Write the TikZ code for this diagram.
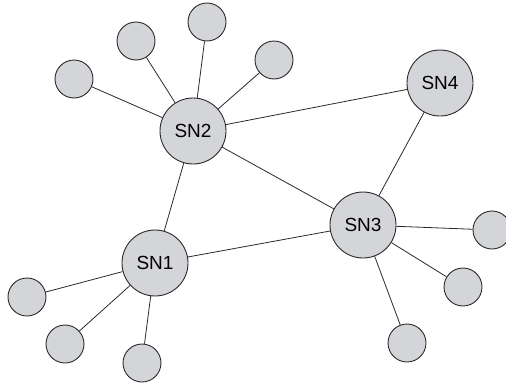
\documentclass[tikz,border=0pt]{standalone}
\usepackage{fontspec}
\setmainfont{Liberation Sans}
\usetikzlibrary{positioning}
\definecolor{nodegray}{HTML}{D4D5D8}
\definecolor{edgegray}{HTML}{2A2A2A}

\begin{document}
\begin{tikzpicture}
  [
    x=1pt,y=-1pt,
    super/.style={  draw=edgegray,  circle,  fill=nodegray,  line width=0.9pt,  minimum size=66pt,  inner sep=0pt,  font=\fontsize{19}{19}\selectfont},
    leaf/.style={  draw=edgegray,  circle,  fill=nodegray,  line width=0.9pt,  minimum size=38pt,  inner sep=0pt},
    link/.style={  draw=edgegray,  line width=0.8pt}
  ]
  \useasboundingbox (0,0) rectangle (506,383);

  % super nodes
  \node[super] (sn1) at (155,263) {SN1};
  \node[super] (sn2) at (193,131) {SN2};
  \node[super] (sn3) at (363,225) {SN3};
  \node[super] (sn4) at (440,83) {SN4};

  % leaves of SN2
  \node[leaf] (l2a) at (74,79) {};
  \node[leaf] (l2b) at (136,41) {};
  \node[leaf] (l2c) at (207,22) {};
  \node[leaf] (l2d) at (274,60) {};

  % leaves of SN3
  \node[leaf] (l3a) at (492,230) {};
  \node[leaf] (l3b) at (463,287) {};
  \node[leaf] (l3c) at (407,343) {};

  % leaves of SN1
  \node[leaf] (l1a) at (27,297) {};
  \node[leaf] (l1b) at (65,344) {};
  \node[leaf] (l1c) at (142,363) {};

  % backbone
  \draw[link] (sn1) -- (sn2);
  \draw[link] (sn1) -- (sn3);
  \draw[link] (sn2) -- (sn3);
  \draw[link] (sn2) -- (sn4);
  \draw[link] (sn3) -- (sn4);

  % leaf links
  \draw[link] (sn2) -- (l2a);
  \draw[link] (sn2) -- (l2b);
  \draw[link] (sn2) -- (l2c);
  \draw[link] (sn2) -- (l2d);
  \draw[link] (sn3) -- (l3a);
  \draw[link] (sn3) -- (l3b);
  \draw[link] (sn3) -- (l3c);
  \draw[link] (sn1) -- (l1a);
  \draw[link] (sn1) -- (l1b);
  \draw[link] (sn1) -- (l1c);
\end{tikzpicture}
\end{document}
